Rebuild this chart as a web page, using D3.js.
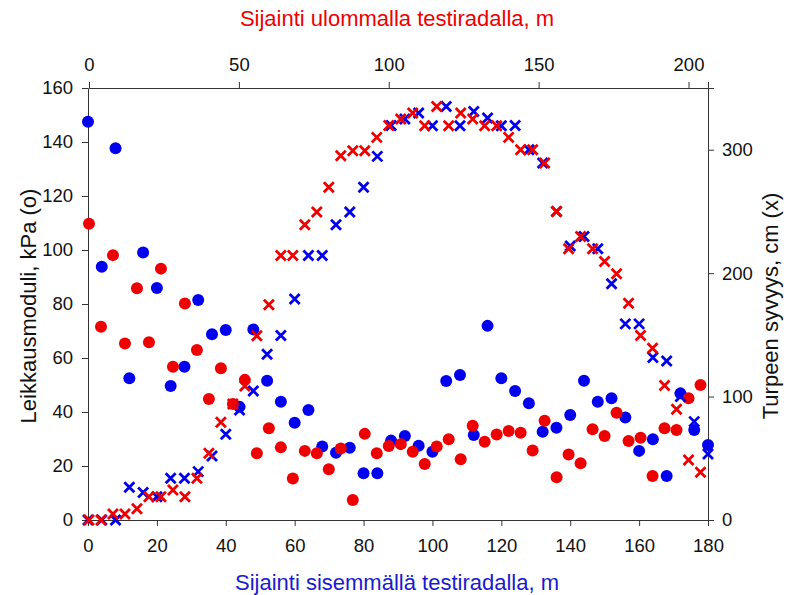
<!DOCTYPE html>
<html>
<head>
<meta charset="utf-8">
<script src="https://cdn.jsdelivr.net/npm/d3@7"></script>
<style>
  body { margin: 0; background: #fff; }
  svg text { font-family: "Liberation Sans", Arial, sans-serif; }
</style>
</head>
<body>
<div id="chart"></div>
<script>
// inner track: position 0..180 m, step 4
const innerPos = d3.range(0, 181, 4);
const innerShear = [147.5, 93.8, 137.7, 52.5, 99.1, 85.9, 49.6, 56.8, 81.5, 68.8,
  70.4, 41.9, 70.6, 51.6, 43.8, 36.0, 40.7, 27.2, 24.9, 26.8,
  17.3, 17.3, 29.4, 31.1, 27.5, 25.3, 51.5, 53.7, 31.5, 71.9,
  52.5, 47.8, 43.2, 32.7, 34.2, 38.9, 51.6, 43.8, 45.1, 38.0,
  25.6, 29.9, 16.3, 46.9, 33.3, 27.8];
const innerDepth = [0, 0, 0, 26.5, 22.2, 18.9, 33.8, 33.8, 39.2, 51.9,
  69.5, 89.2, 104.6, 134.3, 149.5, 179, 214.3, 214.3, 239.2, 249.5,
  269.5, 294.6, 319.7, 324.9, 329.7, 319.5, 335.1, 319.5, 331, 325.7,
  319.5, 319.7, 300, 289.2, 250, 222, 229.7, 219.7, 191.4, 158.9,
  158.9, 131.6, 128.9, 100, 79.7, 53.5];

// outer track: position 0..204 m, step 4
const outerPos = d3.range(0, 205, 4);
const outerShear = [109.7, 71.6, 98.1, 65.4, 85.8, 65.8, 93.1, 56.8, 80.2, 63.0,
  44.8, 56.2, 43.0, 51.9, 24.7, 34.0, 26.9, 15.4, 25.6, 24.7,
  18.8, 26.5, 7.4, 31.9, 24.7, 27.4, 28.1, 25.3, 20.7, 27.2,
  29.9, 22.5, 34.9, 29.0, 31.7, 33.0, 32.3, 25.7, 36.8, 15.8,
  24.3, 21.0, 33.6, 31.1, 39.7, 29.3, 30.5, 16.3, 34.0, 33.3,
  45.1, 50.0];
const outerDepth = [0, 0, 4.9, 4.9, 9.2, 18.9, 18.9, 24.3, 18.9, 33.8,
  54.1, 79.2, 94, 108.6, 149.2, 174.3, 214.3, 214.3, 239.2, 249.5,
  269.5, 295.1, 299.2, 299.2, 310, 319.7, 324.9, 329.7, 319.5, 335.1,
  319.5, 329.7, 324.9, 319.5, 319.5, 310, 300, 300, 289.2, 250,
  219.7, 229.7, 219.7, 209.5, 199.5, 175.7, 149.5, 139.2, 108.9, 89.7,
  48.6, 38.6];

const leftTicks = d3.range(0, 161, 20);
const bottomTicks = d3.range(0, 181, 20);
const topTicks = [0, 50, 100, 150, 200];
const rightTicks = [0, 100, 200, 300];

const width = 791, height = 595;
const blue = "#0000ee", red = "#ee0000";

const svg = d3.select("#chart").append("svg")
  .attr("width", width).attr("height", height);

const xB = d3.scaleLinear().domain([0, 180]).range([88, 708]);
const xT = d3.scaleLinear().domain([0, 206.5]).range([89, 708]);
const yL = d3.scaleLinear().domain([0, 160]).range([520, 88]);
const yR = d3.scaleLinear().domain([0, 350]).range([520, 88]);

function styleAxis(g) {
  g.selectAll("path, line").attr("stroke", "#333").attr("stroke-width", 1);
  g.selectAll("text").attr("fill", "#111").style("font-size", "18.5px")
    .style("font-family", "'Liberation Sans', Arial, sans-serif");
}

svg.append("g").attr("transform", "translate(0,520)")
  .call(d3.axisBottom(xB).tickValues(bottomTicks).tickSizeOuter(0).tickSize(6).tickPadding(13))
  .call(styleAxis);
svg.append("g").attr("transform", "translate(0,88)")
  .call(d3.axisTop(xT).tickValues(topTicks).tickSizeOuter(0).tickSize(6).tickPadding(11))
  .call(styleAxis);
svg.append("g").attr("transform", "translate(88,0)")
  .call(d3.axisLeft(yL).tickValues(leftTicks).tickSizeOuter(0).tickSize(6).tickPadding(9))
  .call(styleAxis);
svg.append("g").attr("transform", "translate(708,0)")
  .call(d3.axisRight(yR).tickValues(rightTicks).tickSizeOuter(0).tickSize(6).tickPadding(8))
  .call(styleAxis);

// circles
const innerG = innerPos.map((p, i) => ({x: p, v: innerShear[i]}));
const outerG = outerPos.map((p, i) => ({x: p, v: outerShear[i]}));
const innerD = innerPos.map((p, i) => ({x: p, v: innerDepth[i]}));
const outerD = outerPos.map((p, i) => ({x: p, v: outerDepth[i]}));

svg.append("g").selectAll("circle").data(innerG).enter().append("circle")
  .attr("cx", d => xB(d.x)).attr("cy", d => yL(d.v)).attr("r", 6).attr("fill", blue);
svg.append("g").selectAll("circle").data(outerG).enter().append("circle")
  .attr("cx", d => xT(d.x)).attr("cy", d => yL(d.v)).attr("r", 6).attr("fill", red);

const s = 5;
function cross(x, y) {
  return `M${x - s},${y - s}L${x + s},${y + s}M${x - s},${y + s}L${x + s},${y - s}`;
}
svg.append("g").selectAll("path").data(innerD).enter().append("path")
  .attr("d", d => cross(xB(d.x), yR(d.v)))
  .attr("stroke", blue).attr("stroke-width", 2.8).attr("fill", "none");
svg.append("g").selectAll("path").data(outerD).enter().append("path")
  .attr("d", d => cross(xT(d.x), yR(d.v)))
  .attr("stroke", red).attr("stroke-width", 2.8).attr("fill", "none");

// titles
svg.append("text").attr("x", 397).attr("y", 26).attr("text-anchor", "middle")
  .attr("fill", red).style("font-size", "22px")
  .text("Sijainti ulommalla testiradalla, m");
svg.append("text").attr("x", 397).attr("y", 590).attr("text-anchor", "middle")
  .attr("fill", "#1a1ad0").style("font-size", "22px")
  .text("Sijainti sisemmällä testiradalla, m");
svg.append("text").attr("transform", "translate(36,306) rotate(-90)")
  .attr("text-anchor", "middle").attr("fill", "#111").style("font-size", "22px")
  .text("Leikkausmoduli, kPa (o)");
svg.append("text").attr("transform", "translate(778,306) rotate(-90)")
  .attr("text-anchor", "middle").attr("fill", "#111").style("font-size", "22px")
  .text("Turpeen syvyys, cm (x)");
</script>
</body>
</html>
